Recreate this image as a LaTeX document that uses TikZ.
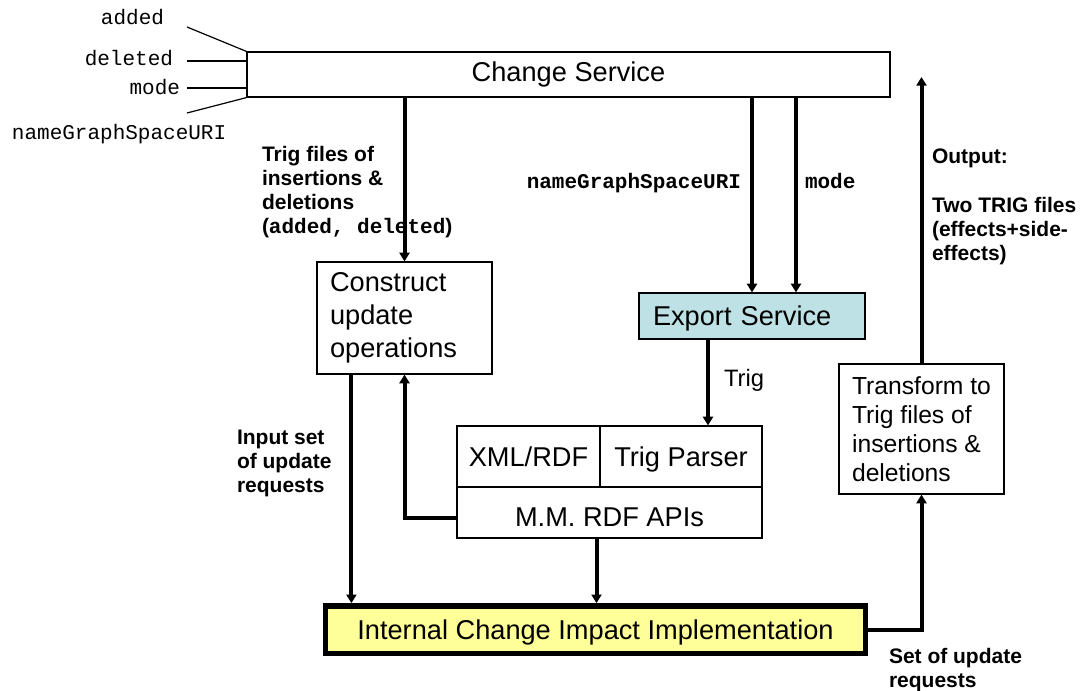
\documentclass[tikz,border=0pt]{standalone}
\usepackage{fontspec}
\setmainfont{Liberation Sans}
\setmonofont{Liberation Mono}
\usepackage{tikz}
\usetikzlibrary{positioning, arrows.meta, calc}
\definecolor{exportfill}{RGB}{189,225,228}
\definecolor{implfill}{RGB}{255,255,153}

\begin{document}
\begin{tikzpicture}[->,>={Triangle[length=6.5pt,width=7.5pt]},x=0.75pt,y=-0.75pt,
		line width=3pt]
		\tikzstyle{box}=[draw,line width=0.9pt,inner sep=0pt,font=\fontsize{20.4}{24.75}\selectfont]
		\tikzstyle{cell}=[box,minimum height=45.75pt,text depth=0pt]
		\tikzstyle{lbl}=[inner sep=0pt,align=left,font=\fontsize{15.75}{18}\selectfont\bfseries]
		\tikzstyle{inp}=[inner sep=0pt,font=\fontsize{15.75}{18}\selectfont\ttfamily]
		\tikzstyle{inpbold}=[inner sep=0pt,font=\fontsize{15.75}{18}\selectfont\ttfamily\bfseries]
		\tikzstyle{inpline}=[-,line width=0.9pt]
		\useasboundingbox (0,0) rectangle (1082,691);

		% boxes
		\node[box,minimum width=482.25pt,minimum height=33.75pt] (service) at (568.5,74.5) {Change Service};
		\node[box,minimum width=131.25pt,minimum height=84pt,text width=111.75pt,align=left] (construct) at (404.5,318) {Construct\\update\\operations};
		\node[box,fill=exportfill,minimum width=169.5pt,minimum height=34.5pt,text width=148.5pt,align=left,text depth=0pt] (export) at (752,316) {Export Service};
		\node[cell,minimum width=107.25pt] (xmlrdf) at (528.5,456.5) {XML/RDF};
		\node[cell,minimum width=121.5pt] (trigparser) at (681,456.5) {Trig Parser};
		\node[box,minimum width=228.75pt,minimum height=38.25pt,text height=21.75pt,text depth=0pt] (rdfapi) at (609.5,512.5) {M.M. RDF APIs};
		\node[box,line width=4pt,fill=implfill,minimum width=404.6pt,minimum height=35.5pt,text depth=0pt] (impl) at (595.5,629.5) {Internal Change Impact Implementation};
		\node[box,minimum width=123.75pt,minimum height=97.5pt,align=left,font=\fontsize{18.5}{21.75}\selectfont] (transform) at (921.5,429) {Transform to\\Trig files of\\insertions \&\\deletions};

		% inputs of the change service
		\node[inp,anchor=base east] (added) at (166,25) {added};
		\node[inp,anchor=base east] (deleted) at (175,66) {deleted};
		\node[inp,anchor=base east] (mode) at (182,95) {mode};
		\node[inp,anchor=base west] (graphuri) at (10,140) {nameGraphSpaceURI};
		\coordinate (addedend) at (187,27);
		\coordinate (deletedend) at (187,61);
		\coordinate (modeend) at (187,88);
		\coordinate (graphuriend) at (187,113);
		\draw[inpline] (addedend) -- (service.north west);
		\draw[inpline] (deletedend) -- (deletedend -| service.west);
		\draw[inpline] (modeend) -- (modeend -| service.west);
		\draw[inpline] (graphuriend) -- (service.south west);

		% labels
		\node[lbl,anchor=north west] (trigfiles) at (260,144) {Trig files of\\insertions \&\\deletions\\(\texttt{added, deleted})};
		\node[inpbold,anchor=base east] (graphurilbl) at (743,189) {nameGraphSpaceURI};
		\node[inpbold,anchor=base west] (modelbl) at (803,189) {mode};
		\node[anchor=base west,inner sep=0pt,font=\fontsize{17.8}{20}\selectfont] (triglbl) at (722,387) {Trig};
		\node[lbl,anchor=north west] (inputset) at (235,428) {Input set\\of update\\requests};
		\node[lbl,anchor=base west] (output) at (930,164) {Output:};
		\node[lbl,anchor=north west] (twotrig) at (930,195) {Two TRIG files\\(effects+side-\\effects)};
		\node[lbl,anchor=north west] (setupdate) at (887,646) {Set of update\\requests};

		% connectors
		\coordinate (modein) at ($(export.north)+(44,0)$);
		\coordinate (trigout) at ($(export.south)+(-44,0)$);
		\coordinate (apiout) at ($(rdfapi.west)+(0,5)$);
		\coordinate (requestsout) at ($(construct.south west)+(35,0)$);
		\coordinate (apidown) at ($(rdfapi.south)+(-13,0)$);
		\coordinate (outtip) at (921.5,77);
		\draw (construct.north |- service.south) -- (construct.north);
		\draw (export.north |- service.south) -- (export.north);
		\draw (modein |- service.south) -- (modein);
		\draw (trigout) -- (trigout |- trigparser.north);
		\draw (apiout) -| (construct.south);
		\draw (requestsout) -- (requestsout |- impl.north);
		\draw (apidown) -- (apidown |- impl.north);
		\draw (impl.east) -| (transform.south);
		\draw (transform.north) -- (outtip);
	\end{tikzpicture}
\end{document}
